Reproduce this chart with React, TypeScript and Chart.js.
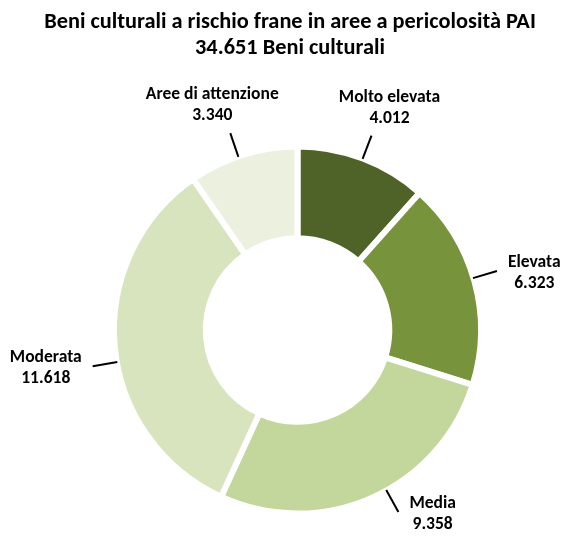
import React, { useEffect, useRef } from "react";
import { Chart, registerables } from "chart.js";

Chart.register(...registerables);

// ---- data ----
const TITLE_MAIN = "Beni culturali a rischio frane in aree a pericolosità PAI";
const TITLE_SUFFIX = "Beni culturali";
const CATEGORIES = ["Molto elevata", "Elevata", "Media", "Moderata", "Aree di attenzione"];
const VALUES = [4012, 6323, 9358, 11618, 3340];
const COLORS = ["#4F6228", "#77933C", "#C3D69B", "#D7E4BD", "#EBF1DE"];

// ---- label layout (style) ----
const LABEL_ANGLE_NUDGE_DEG = [0, -1, -5, -5, -1.5];
const FONT = "Carlito, Lato, 'Open Sans', sans-serif";

const fmt = (n: number) => String(n).replace(/\B(?=(\d{3})+(?!\d))/g, ".");

const fitSize = (ctx: CanvasRenderingContext2D, text: string, target: number) => {
  ctx.font = `bold 100px ${FONT}`;
  return (100 * target) / ctx.measureText(text).width;
};

const labelPlugin = {
  id: "outerLabels",
  afterDraw(chart: any) {
    const ctx: CanvasRenderingContext2D = chart.ctx;
    const meta = chart.getDatasetMeta(0);
    const total = VALUES.reduce((a, b) => a + b, 0);
    const titleLines = [TITLE_MAIN, `${fmt(total)} ${TITLE_SUFFIX}`];
    ctx.save();
    ctx.fillStyle = "#000";
    ctx.textAlign = "center";
    ctx.textBaseline = "alphabetic";
    const ts = fitSize(ctx, titleLines[0], 492);
    ctx.font = `bold ${ts}px ${FONT}`;
    ctx.fillText(titleLines[0], 290, 27.7);
    ctx.fillText(titleLines[1], 290, 54.3);

    const ls = fitSize(ctx, CATEGORIES[4], 133);
    ctx.font = `bold ${ls}px ${FONT}`;
    ctx.strokeStyle = "#000";
    ctx.lineWidth = 2;
    meta.data.forEach((arc: any, i: number) => {
      const { x, y, startAngle, endAngle, outerRadius } = arc.getProps(
        ["x", "y", "startAngle", "endAngle", "outerRadius"],
        true
      );
      const a = (startAngle + endAngle) / 2 + (LABEL_ANGLE_NUDGE_DEG[i] * Math.PI) / 180;
      const c = Math.cos(a);
      const s = Math.sin(a);
      const r1 = outerRadius - 0.5;
      const r2 = outerRadius + 24.5;
      ctx.beginPath();
      ctx.moveTo(x + c * r1, y + s * r1);
      ctx.lineTo(x + c * r2, y + s * r2);
      ctx.stroke();
      const ex = x + c * r2;
      const ey = y + s * r2;
      const lines = [CATEGORIES[i], fmt(VALUES[i])];
      const w = Math.max(...lines.map((t) => ctx.measureText(t).width));
      let cx: number;
      let b1: number;
      if (Math.abs(c) < 0.45) {
        cx = ex + Math.sign(c) * 18;
        b1 = s < 0 ? ey - 13 - 21 : ey + 13 + 11.5;
      } else {
        cx = c > 0 ? ex + 11 + w / 2 : ex - 11 - w / 2;
        b1 = ey - 4;
      }
      ctx.fillText(lines[0], cx, b1);
      ctx.fillText(lines[1], cx, b1 + 21);
    });
    ctx.restore();
  },
};

export default function App() {
  const ref = useRef<HTMLCanvasElement | null>(null);
  useEffect(() => {
    if (!ref.current) return;
    const chart = new Chart(ref.current, {
      type: "doughnut",
      data: {
        labels: CATEGORIES,
        datasets: [
          {
            data: VALUES,
            backgroundColor: COLORS,
            borderColor: "#FFFFFF",
            borderWidth: 6,
            hoverOffset: 0,
          },
        ],
      },
      options: {
        responsive: false,
        animation: false,
        cutout: "50%",
        layout: { padding: { left: 111, right: 78, top: 143.5, bottom: 19.5 } },
        plugins: {
          legend: { display: false },
          tooltip: { enabled: false },
          title: { display: false },
        },
      },
      plugins: [labelPlugin],
    });
    return () => chart.destroy();
  }, []);
  return (
    <div style={{ position: "absolute", left: 0, top: 0, width: 562, height: 536, background: "#fff" }}>
      <canvas ref={ref} width={562} height={536} style={{ display: "block" }} />
    </div>
  );
}
